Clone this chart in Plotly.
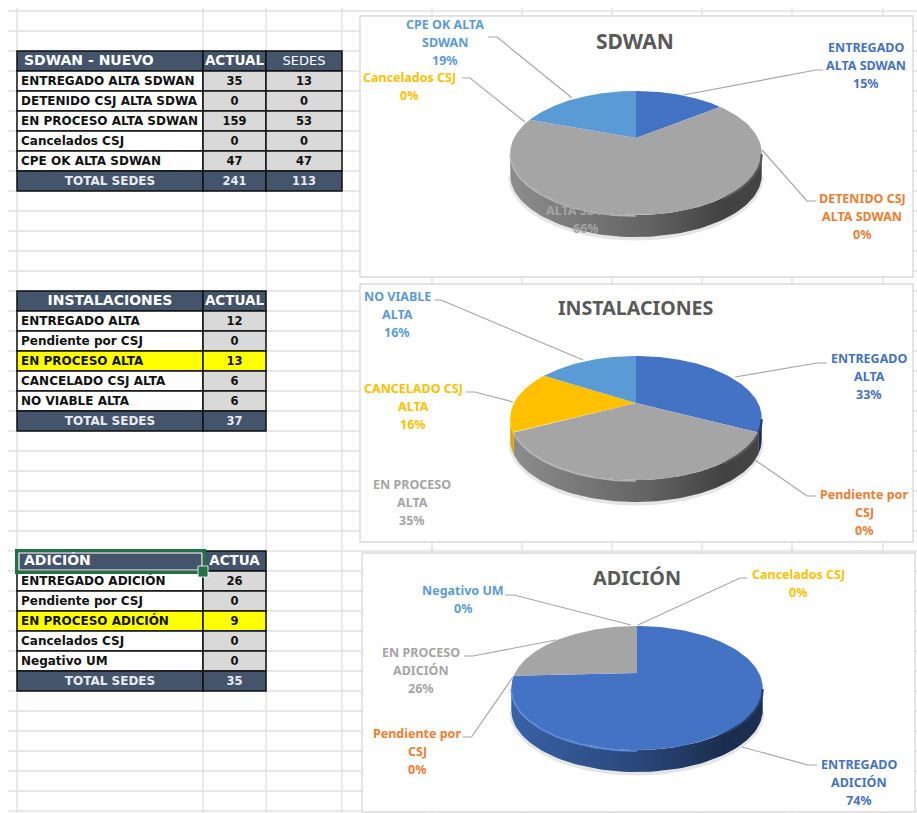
import numpy as np
import plotly.graph_objects as go

# ---------- DATA ----------
SDWAN_ROWS = ["ENTREGADO ALTA SDWAN", "DETENIDO CSJ ALTA SDWA", "EN PROCESO ALTA SDWAN", "Cancelados CSJ", "CPE OK ALTA SDWAN", "TOTAL SEDES"]
SDWAN_ACTUAL = [35, 0, 159, 0, 47, 241]
SDWAN_SEDES = [13, 0, 53, 0, 47, 113]
INST_ROWS = ["ENTREGADO ALTA", "Pendiente por CSJ", "EN PROCESO ALTA", "CANCELADO CSJ ALTA", "NO VIABLE ALTA", "TOTAL SEDES"]
INST_ACTUAL = [12, 0, 13, 6, 6, 37]
ADIC_ROWS = ["ENTREGADO ADICIÓN", "Pendiente por CSJ", "EN PROCESO ADICIÓN", "Cancelados CSJ", "Negativo UM", "TOTAL SEDES"]
ADIC_ACTUAL = [26, 0, 9, 0, 0, 35]

SDWAN_LABELS = ["ENTREGADO\nALTA SDWAN", "DETENIDO CSJ\nALTA SDWAN", "EN PROCESO\nALTA SDWAN", "Cancelados CSJ", "CPE OK ALTA\nSDWAN"]
SDWAN_PCT = ["15%", "0%", "66%", "0%", "19%"]
INST_LABELS = ["ENTREGADO\nALTA", "Pendiente por\nCSJ", "EN PROCESO\nALTA", "CANCELADO CSJ\nALTA", "NO VIABLE\nALTA"]
INST_PCT = ["33%", "0%", "35%", "16%", "16%"]
ADIC_LABELS = ["ENTREGADO\nADICIÓN", "Pendiente por\nCSJ", "EN PROCESO\nADICIÓN", "Cancelados CSJ", "Negativo UM"]
ADIC_PCT = ["74%", "0%", "26%", "0%", "0%"]

# ---------- STYLE / LAYOUT ----------
COLORS = ["#4472C4", "#ED7D31", "#A5A5A5", "#FFC000", "#5B9BD5"]
NAVY, CELLGREY, YEL = "#44546A", "#D9D9D9", "#FFFF00"
FONT = "DejaVu Sans"
LFONT = "Noto Sans"
W, H = 917, 813
RX, RY, K, DEPTH = 122.0, 58.4, 0.242, 22.0

shapes, annots = [], []
fig = go.Figure()


def line(x0, y0, x1, y1, color, width, layer="below"):
    shapes.append(dict(type="line", xref="x", yref="y", x0=x0, y0=y0, x1=x1, y1=y1,
                       line=dict(color=color, width=width), layer=layer))


def rect(x0, y0, x1, y1, fill, lc=None, lw=0, layer="below"):
    shapes.append(dict(type="rect", xref="x", yref="y", x0=x0, y0=y0, x1=x1, y1=y1, fillcolor=fill,
                       line=dict(color=lc or fill, width=lw), layer=layer))


# spreadsheet grid
for k in range(41):
    line(8, 11 + 20 * k, W, 11 + 20 * k, "#E1E1E1", 1.4)
for x in [17, 203, 266, 342, 432, 522, 612, 702, 792, 883]:
    line(x, 8, x, H, "#E1E1E1", 1.4)

# chart panels
rect(360, 16, 913, 277, "white", "#DADADA", 1.4)
rect(360, 284, 913, 542, "white", "#DADADA", 1.4)
rect(362, 553, 915, 812, "white", "#DADADA", 1.4)


def shade(hexc, f):
    r, g, b = [int(hexc[i:i + 2], 16) for i in (1, 3, 5)]
    return "rgb(%d,%d,%d)" % (min(r * f, 255), min(g * f, 255), min(b * f, 255))


def project(cx, cy, theta):
    X, Y = np.sin(theta), np.cos(theta)
    w = 1 + K * Y
    return cx + RX * X / w, cy - RY * Y / w


def pie3d(values, cx, cy):
    total = sum(values)
    edges = np.concatenate([[0], np.cumsum(values)]) / total * 2 * np.pi
    front0, front1 = np.arccos(-K), 2 * np.pi - np.arccos(-K)
    xl = cx - RX * 1.03
    xr = cx + RX * 1.03
    # soft shadow under the wall
    t = np.linspace(front0, front1, 80)
    sx, sy = project(cx, cy, t)
    fig.add_trace(go.Scatter(x=sx, y=sy + DEPTH + 1.5, mode="lines", line=dict(color="rgba(0,0,0,0.10)", width=4),
                             hoverinfo="skip", showlegend=False))
    # walls
    for i, v in enumerate(values):
        a, b = max(edges[i], front0), min(edges[i + 1], front1)
        if v == 0 or b <= a:
            continue
        t = np.linspace(a, b, 80)
        x, y = project(cx, cy, t)
        c = COLORS[i]
        fig.add_trace(go.Scatter(
            x=np.concatenate([x, x[::-1]]), y=np.concatenate([y, y[::-1] + DEPTH]),
            mode="lines", line=dict(width=0), fill="toself",
            fillgradient=dict(type="horizontal", start=xl, stop=xr,
                              colorscale=[[0, shade(c, 0.86)], [0.55, shade(c, 0.6)], [0.85, shade(c, 0.4)], [1, shade(c, 0.42)]]),
            hoverinfo="skip", showlegend=False))
    # top face
    for i, v in enumerate(values):
        if v == 0:
            continue
        t = np.linspace(edges[i], edges[i + 1], 120)
        x, y = project(cx, cy, t)
        fig.add_trace(go.Scatter(
            x=np.concatenate([[cx], x, [cx]]), y=np.concatenate([[cy], y, [cy]]),
            mode="lines", line=dict(width=0), fill="toself", fillcolor=COLORS[i],
            hoverinfo="skip", showlegend=False))
    # bevel on the rim
    for i, v in enumerate(values):
        a, b = max(edges[i], np.pi), min(edges[i + 1], front1)
        if v and b > a:
            x, y = project(cx, cy, np.linspace(a, b, 50))
            fig.add_trace(go.Scatter(x=x, y=y + 1, mode="lines", line=dict(color=shade(COLORS[i], 1.1) if i != 0 else "#5f8ede", width=1.6),
                                     hoverinfo="skip", showlegend=False))
        a, b = max(edges[i], front0), min(edges[i + 1], np.radians(145))
        if v and b > a:
            x, y = project(cx, cy, np.linspace(a, b, 50))
            fig.add_trace(go.Scatter(x=x, y=y + 1, mode="lines", line=dict(color=shade(COLORS[i], 0.55), width=2.2),
                                     hoverinfo="skip", showlegend=False))


pie3d(SDWAN_ACTUAL[:5], 636, 138)
pie3d(INST_ACTUAL[:5], 636, 403)
pie3d(ADIC_ACTUAL[:5], 637, 673)

# leader lines
LEADERS = [
    [(488, 37), (497, 37), (572, 98)], [(462, 78), (470, 78), (525, 122)],
    [(823, 70), (816, 70), (683, 95)], [(816, 201), (807, 201), (762, 150)],
    [(434, 300), (441, 300), (583, 360)], [(466, 392), (475, 392), (513, 402)],
    [(827, 363), (817, 363), (735, 377)], [(816, 496), (807, 496), (755, 460)],
    [(747, 578), (740, 578), (638, 625)], [(505, 595), (514, 595), (631, 625)],
    [(464, 656), (473, 656), (556, 640)], [(462.5, 737), (471.5, 737), (513, 677)],
    [(817, 765), (808, 765), (742, 747)],
]
for pts in LEADERS:
    fig.add_trace(go.Scatter(x=[p[0] for p in pts], y=[p[1] for p in pts], mode="lines",
                             line=dict(color="#A6A6A6", width=1.2), hoverinfo="skip", showlegend=False))


def text_at(x, y, s, color, size, family=LFONT, bold=True):
    annots.append(dict(x=x, y=y, xref="x", yref="y", text=f"<b>{s}</b>" if bold else s, showarrow=False,
                       font=dict(color=color, size=size, family=family), xanchor="center", yanchor="middle"))


def pie_labels(labels, pcts, anchors):
    for i, (lab, pc, (x, y)) in enumerate(zip(labels, pcts, anchors)):
        for j, s in enumerate(lab.split("\n") + [pc]):
            text_at(x, y + 18 * j, s, COLORS[i], 12.5)


pie_labels(SDWAN_LABELS, SDWAN_PCT, [(866, 47), (862, 198), (586, 192), (409, 77.5), (445, 24.5)])
pie_labels(INST_LABELS, INST_PCT, [(869, 358), (864, 494), (412, 484), (413, 388), (397, 296)])
pie_labels(ADIC_LABELS, ADIC_PCT, [(859, 764), (417, 733), (421, 652), (798, 574), (463, 590)])

text_at(635, 41, "SDWAN", "#595959", 21)
text_at(636, 307, "INSTALACIONES", "#595959", 19.6)
text_at(637, 577, "ADICIÓN", "#595959", 19.8)


# tables
def table(y0, head, rows, columns, highlight=None, header_label_left=False):
    cols_x = [17, 203, 266, 342]
    n = len(rows)
    ncol = 1 + len(columns)
    for r in range(n + 1):
        y = y0 + 20 * r
        for c in range(ncol):
            if r == 0 or r == n:
                fill = NAVY
            elif highlight == r - 1:
                fill = YEL
            else:
                fill = "white" if c == 0 else CELLGREY
            rect(cols_x[c], y, cols_x[c + 1], y + 20, fill, "#111111", 1.5)
    fig.add_trace(go.Scatter(x=[24 if header_label_left else 110], y=[y0 + 10], mode="text", text=[f"<b>{head[0]}</b>"],
                             textposition="middle right" if header_label_left else "middle center",
                             textfont=dict(color="white", size=14, family=FONT), hoverinfo="skip", showlegend=False))
    for c in range(1, ncol):
        xm = (cols_x[c] + cols_x[c + 1]) / 2
        lab = head[c]
        fig.add_trace(go.Scatter(x=[xm], y=[y0 + 11], mode="text", text=[f"<b>{lab}</b>" if lab != "SEDES" else lab],
                                 textposition="middle center",
                                 textfont=dict(color="white", size=13 if lab == "SEDES" else 13.5, family=FONT),
                                 hoverinfo="skip", showlegend=False))
    for r, name in enumerate(rows):
        y = y0 + 20 * (r + 1) + 11
        total = r == n - 1
        fig.add_trace(go.Scatter(x=[110 if total else 21], y=[y], mode="text", text=[f"<b>{name}</b>"],
                                 textposition="middle center" if total else "middle right",
                                 textfont=dict(color="#E8ECF2" if total else "#111111", size=12, family=FONT),
                                 hoverinfo="skip", showlegend=False))
        for c, vals in enumerate(columns):
            xm = (cols_x[c + 1] + cols_x[c + 2]) / 2
            fig.add_trace(go.Scatter(x=[xm], y=[y], mode="text", text=[f"<b>{vals[r]}</b>"], textposition="middle center",
                                     textfont=dict(color="#E8ECF2" if total else "#111111", size=11.5, family=FONT),
                                     hoverinfo="skip", showlegend=False))


table(51, ["SDWAN - NUEVO", "ACTUAL", "SEDES"], SDWAN_ROWS, [SDWAN_ACTUAL, SDWAN_SEDES], header_label_left=True)
table(291, ["INSTALACIONES", "ACTUAL"], INST_ROWS, [INST_ACTUAL], highlight=2)
table(551, ["ADICIÓN", "ACTUA"], ADIC_ROWS, [ADIC_ACTUAL], highlight=2, header_label_left=True)

# selected cell
shapes.append(dict(type="rect", xref="x", yref="y", x0=16.5, y0=550.5, x1=204.5, y1=572.5, line=dict(color="#217346", width=3), layer="above"))
shapes.append(dict(type="rect", xref="x", yref="y", x0=19, y0=553, x1=202, y1=570, line=dict(color="white", width=1.2), layer="above"))
rect(198, 566, 208, 577, "#217346", "white", 0.8, layer="above")

fig.update_layout(
    width=W, height=H, margin=dict(l=0, r=0, t=0, b=0), plot_bgcolor="white", paper_bgcolor="white",
    xaxis=dict(range=[0, W], visible=False, fixedrange=True),
    yaxis=dict(range=[H, 0], visible=False, fixedrange=True),
    showlegend=False, shapes=shapes, annotations=annots,
)
fig.write_html("out.html", config={"displayModeBar": False}, post_script="document.body.style.margin='0';")
